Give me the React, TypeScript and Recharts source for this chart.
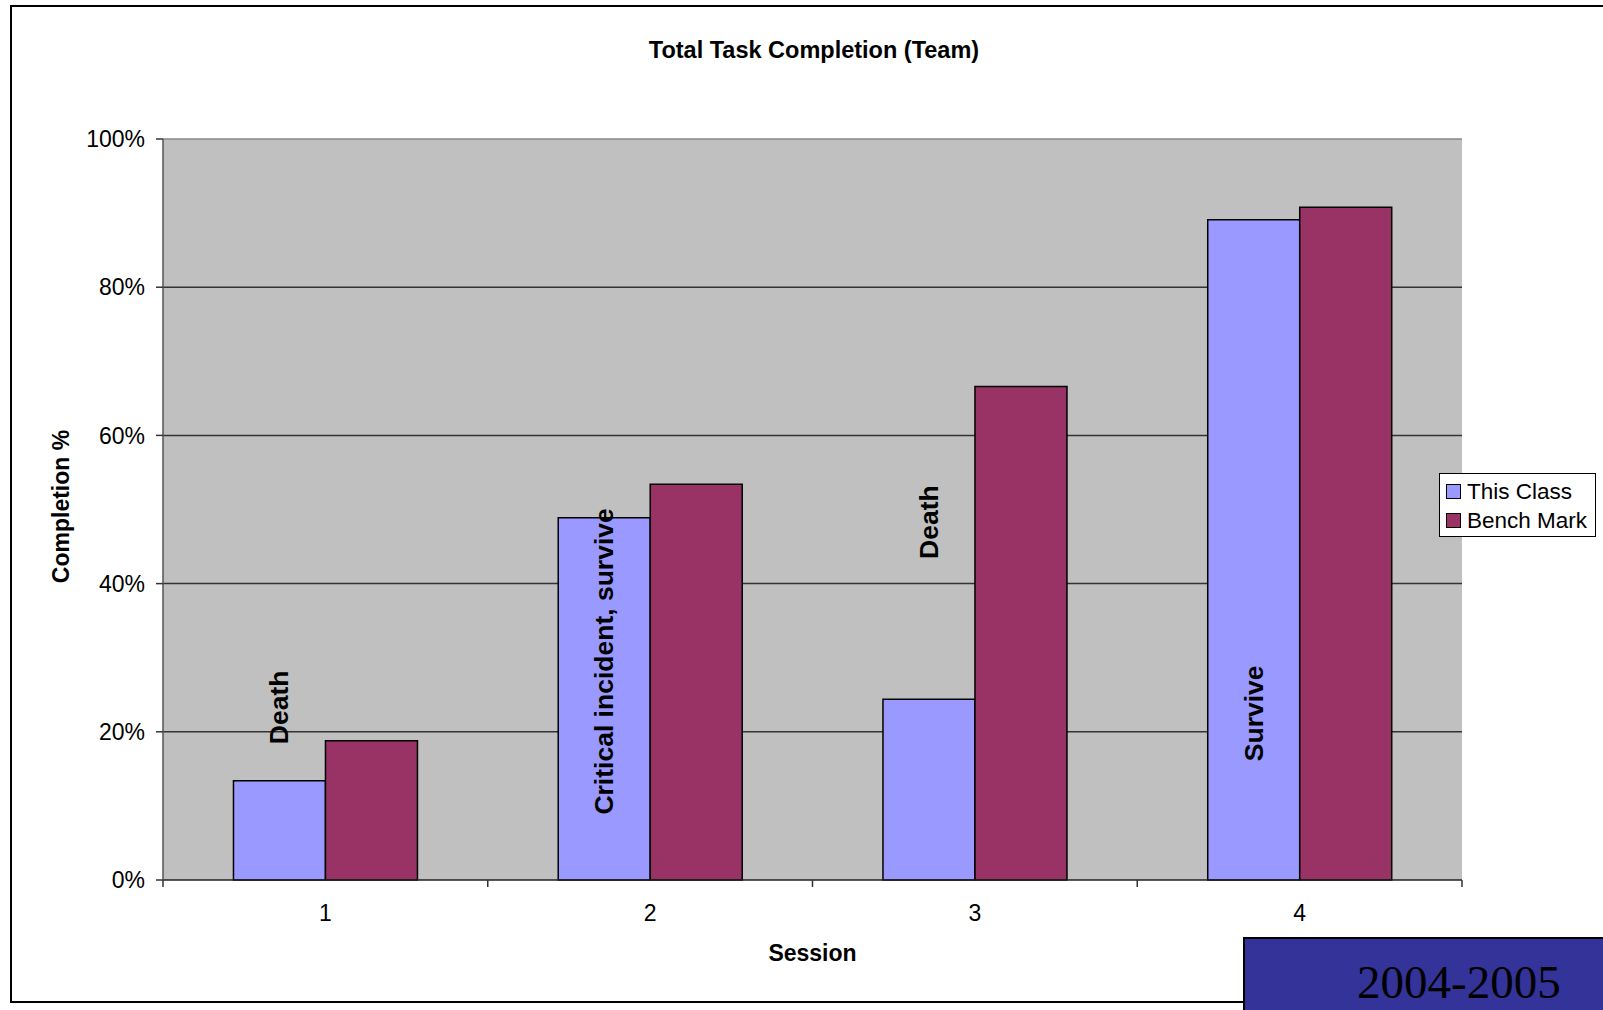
import React from "react";
import {
  BarChart,
  Bar,
  XAxis,
  YAxis,
  CartesianGrid,
  Legend,
  LabelList,
  ReferenceLine,
} from "recharts";

// values (percent)
const sessions = ["1", "2", "3", "4"];
const thisClass = [13.4, 48.9, 24.4, 89.1];
const benchMark = [18.8, 53.4, 66.6, 90.8];
const notes = ["Death", "Critical incident, survive", "Death", "Survive"];
// centre of each note, in % on the value axis
const noteLevels = [23.3, 29.5, 48.3, 22.5];
const yTicks = [0, 20, 40, 60, 80, 100];

const data = sessions.map((s, i) => ({
  session: s,
  thisClass: thisClass[i],
  benchMark: benchMark[i],
}));

const FONT = "'Liberation Sans', Arial, sans-serif";

const series = [
  { key: "thisClass", name: "This Class", fill: "#9999FF" },
  { key: "benchMark", name: "Bench Mark", fill: "#993366" },
];

function NoteLabel(props: any) {
  const { x, y, width, height, value, index } = props;
  if (!value) return null;
  const bottom = y + height;
  const perUnit = height / value;
  const cx = x + width / 2;
  const cy = bottom - noteLevels[index] * perUnit;
  return (
    <text
      x={cx}
      y={cy}
      transform={`rotate(-90, ${cx}, ${cy})`}
      textAnchor="middle"
      dominantBaseline="central"
      fontFamily={FONT}
      fontWeight="bold"
      fontSize={26.5}
      fill="#000"
    >
      {notes[index]}
    </text>
  );
}

// category label plus Excel-style tick marks on the category edges
function SessionTick(props: any) {
  const { x, y, payload, index, visibleTicksCount, width } = props;
  const half =
    payload && typeof payload.offset === "number" && payload.offset > 0
      ? payload.offset
      : width / visibleTicksCount / 2;
  const last = index === visibleTicksCount - 1;
  return (
    <g>
      <line x1={x - half} y1={y} x2={x - half} y2={y + 7} stroke="#333" strokeWidth={1.5} />
      {last ? (
        <line x1={x + half} y1={y} x2={x + half} y2={y + 7} stroke="#333" strokeWidth={1.5} />
      ) : null}
      <text
        x={x}
        y={y + 25}
        dy="0.71em"
        textAnchor="middle"
        fontFamily={FONT}
        fontSize={23}
        fill="#000"
      >
        {payload.value}
      </text>
    </g>
  );
}

function LegendBox() {
  return (
    <div
      style={{
        border: "1.5px solid #000",
        background: "#fff",
        fontFamily: FONT,
        fontSize: 22.5,
        padding: "3px 6px",
        boxSizing: "border-box",
        width: 157,
        height: 64,
      }}
    >
      {series.map((s) => (
        <div
          key={s.key}
          style={{ display: "flex", alignItems: "center", height: 29, lineHeight: "29px" }}
        >
          <span
            style={{
              display: "inline-block",
              width: 13,
              height: 13,
              background: s.fill,
              border: "1px solid #000",
              marginRight: 6,
            }}
          />
          {s.name}
        </div>
      ))}
    </div>
  );
}

export default function App() {
  return (
    <div
      style={{
        position: "absolute",
        left: 0,
        top: 0,
        width: 1603,
        height: 1010,
        background: "#fff",
        overflow: "hidden",
      }}
    >
      <div
        style={{
          position: "absolute",
          left: 10,
          top: 5,
          width: 1700,
          height: 994,
          borderLeft: "2px solid #000",
          borderTop: "2px solid #000",
          borderBottom: "2px solid #000",
        }}
      />
      <div
        style={{
          position: "absolute",
          left: 564,
          top: 38,
          width: 500,
          textAlign: "center",
          fontFamily: FONT,
          fontWeight: "bold",
          fontSize: 23.5,
          lineHeight: "24px",
          color: "#000",
        }}
      >
        Total Task Completion (Team)
      </div>
      <div style={{ position: "absolute", left: 0, top: 0 }}>
        <BarChart
          width={1603}
          height={1010}
          data={data}
          margin={{ top: 139, right: 141, bottom: 70, left: 0 }}
          barCategoryGap="21.7%"
          barGap={0}
        >
          <CartesianGrid
            fill="#C0C0C0"
            fillOpacity={1}
            vertical={false}
            stroke="#333"
            strokeWidth={1.5}
            horizontalValues={[20, 40, 60, 80]}
          />
          <XAxis
            dataKey="session"
            interval={0}
            tickLine={false}
            tickSize={0}
            tickMargin={0}
            height={60}
            axisLine={{ stroke: "#222", strokeWidth: 1.5 }}
            tick={<SessionTick />}
            label={{
              content: (p: any) => {
                const vb = p.viewBox;
                return (
                  <text
                    x={vb.x + vb.width / 2}
                    y={vb.y + 73}
                    textAnchor="middle"
                    dominantBaseline="central"
                    fontFamily={FONT}
                    fontWeight="bold"
                    fontSize={23}
                    fill="#000"
                  >
                    Session
                  </text>
                );
              },
            }}
          />
          <YAxis
            domain={[0, 100]}
            ticks={yTicks}
            tickFormatter={(v: number) => `${v}%`}
            width={163}
            tickSize={7}
            tickMargin={11}
            tickLine={{ stroke: "#333", strokeWidth: 1.5 }}
            axisLine={{ stroke: "#555", strokeWidth: 1.5 }}
            tick={{ fontSize: 23, fill: "#000", fontFamily: FONT }}
            label={{
              content: (p: any) => {
                const vb = p.viewBox;
                const cx = vb.x + 61;
                const cy = vb.y + vb.height / 2 - 3;
                return (
                  <text
                    x={cx}
                    y={cy}
                    transform={`rotate(-90, ${cx}, ${cy})`}
                    textAnchor="middle"
                    dominantBaseline="central"
                    fontFamily={FONT}
                    fontWeight="bold"
                    fontSize={23}
                    fill="#000"
                  >
                    Completion %
                  </text>
                );
              },
            }}
          />
          {/* right-hand border of the plot area */}
          <YAxis
            yAxisId="frame"
            orientation="right"
            domain={[0, 100]}
            width={0}
            tick={false}
            tickLine={false}
            axisLine={{ stroke: "#999", strokeWidth: 1.5 }}
          />
          <ReferenceLine y={100} stroke="#888" strokeWidth={1.5} />
          <Legend
            layout="horizontal"
            align="center"
            verticalAlign="middle"
            content={() => <LegendBox />}
            wrapperStyle={{ left: 1439, top: 473, width: 157, height: 64 }}
          />
          {series.map((s) => (
            <Bar
              key={s.key}
              dataKey={s.key}
              name={s.name}
              fill={s.fill}
              stroke="#000"
              strokeWidth={1.5}
              isAnimationActive={false}
            >
              {s.key === "thisClass" ? (
                <LabelList dataKey="thisClass" content={NoteLabel} />
              ) : null}
            </Bar>
          ))}
        </BarChart>
      </div>
      <div
        style={{
          position: "absolute",
          left: 1243,
          top: 937,
          width: 400,
          height: 100,
          background: "#333399",
          borderTop: "2px solid #000",
          borderLeft: "2px solid #000",
        }}
      >
        <div
          style={{
            position: "absolute",
            left: 112,
            top: 16,
            fontFamily: "'Liberation Serif', 'Times New Roman', serif",
            fontSize: 47,
            lineHeight: "54px",
            color: "#000",
          }}
        >
          2004-2005
        </div>
      </div>
    </div>
  );
}
